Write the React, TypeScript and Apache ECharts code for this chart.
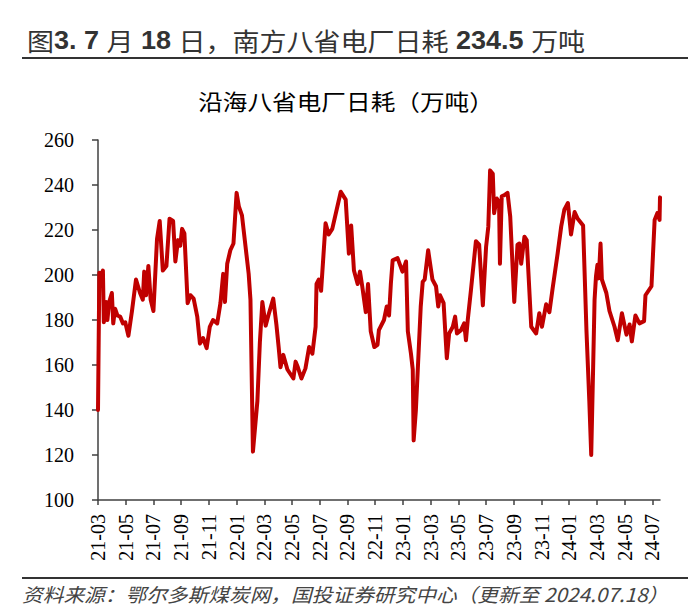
import React, { useEffect, useRef } from "react";
import * as echarts from "echarts";

const xTickLabels = [
  "21-03", "21-05", "21-07", "21-09", "21-11", "22-01", "22-03", "22-05", "22-07", "22-09", "22-11",
  "23-01", "23-03", "23-05", "23-07", "23-09", "23-11", "24-01", "24-03", "24-05", "24-07",
];

const yTicks = [100, 120, 140, 160, 180, 200, 220, 240, 260];

const dates = [
  "2021-03-01", "2021-03-04", "2021-03-08", "2021-03-12", "2021-03-14", "2021-03-19", "2021-03-22", "2021-03-26",
  "2021-04-01", "2021-04-04", "2021-04-08", "2021-04-13", "2021-04-19", "2021-04-25", "2021-04-30",
  "2021-05-07", "2021-05-15", "2021-05-24", "2021-06-02", "2021-06-08", "2021-06-11", "2021-06-15", "2021-06-20", "2021-06-25",
  "2021-07-01", "2021-07-09", "2021-07-15", "2021-07-22", "2021-07-30", "2021-08-06", "2021-08-14", "2021-08-19", "2021-08-25", "2021-08-30",
  "2021-09-03", "2021-09-08", "2021-09-15", "2021-09-21", "2021-09-28", "2021-10-06", "2021-10-12", "2021-10-19", "2021-10-27",
  "2021-11-03", "2021-11-10", "2021-11-19", "2021-11-26", "2021-12-02", "2021-12-06", "2021-12-11", "2021-12-18", "2021-12-25",
  "2022-01-01", "2022-01-06", "2022-01-13", "2022-01-28", "2022-02-01", "2022-02-06", "2022-02-15", "2022-02-20", "2022-02-25",
  "2022-03-04", "2022-03-10", "2022-03-21", "2022-03-28", "2022-04-02", "2022-04-06", "2022-04-12", "2022-04-21",
  "2022-05-04", "2022-05-09", "2022-05-14", "2022-05-22", "2022-05-31", "2022-06-08", "2022-06-15", "2022-06-22", "2022-06-24", "2022-06-29",
  "2022-07-04", "2022-07-14", "2022-07-21", "2022-07-29", "2022-08-17", "2022-08-28", "2022-09-04", "2022-09-09", "2022-09-15", "2022-09-23", "2022-09-28",
  "2022-10-03", "2022-10-11", "2022-10-16", "2022-10-22", "2022-10-30", "2022-11-06", "2022-11-09", "2022-11-20", "2022-11-26",
  "2022-12-01", "2022-12-05", "2022-12-09", "2022-12-20", "2022-12-31",
  "2023-01-08", "2023-01-12", "2023-01-19", "2023-01-23", "2023-01-25", "2023-01-30", "2023-02-09", "2023-02-13", "2023-02-17", "2023-02-24",
  "2023-03-05", "2023-03-13", "2023-03-18", "2023-03-22", "2023-03-30", "2023-04-06", "2023-04-11", "2023-04-19", "2023-04-24", "2023-04-28",
  "2023-05-07", "2023-05-14", "2023-05-18", "2023-05-22", "2023-05-29", "2023-06-09", "2023-06-16", "2023-06-24",
  "2023-07-01", "2023-07-06", "2023-07-10", "2023-07-16", "2023-07-19", "2023-07-25", "2023-07-30", "2023-08-01", "2023-08-05", "2023-08-11", "2023-08-18", "2023-08-24",
  "2023-09-02", "2023-09-09", "2023-09-13", "2023-09-17", "2023-09-24", "2023-09-29", "2023-10-09", "2023-10-20", "2023-10-27",
  "2023-11-02", "2023-11-11", "2023-11-18", "2023-11-25", "2023-12-06", "2023-12-14", "2023-12-21", "2023-12-29",
  "2024-01-05", "2024-01-13", "2024-01-20", "2024-02-01", "2024-02-08", "2024-02-14", "2024-02-18", "2024-02-22", "2024-02-25", "2024-02-28",
  "2024-03-02", "2024-03-05", "2024-03-09", "2024-03-12", "2024-03-22", "2024-03-29", "2024-04-09", "2024-04-16", "2024-04-25",
  "2024-05-05", "2024-05-12", "2024-05-17", "2024-05-25", "2024-06-03", "2024-06-13", "2024-06-16", "2024-06-29",
  "2024-07-06", "2024-07-12", "2024-07-17", "2024-07-18",
];

const values = [
  140, 201, 200, 202, 179, 188, 180, 188,
  192, 178.5, 185, 182, 181.5, 178.5, 179,
  173, 184, 198, 192, 189, 201.5, 191, 204, 189,
  184, 216, 224, 202, 204, 225, 224, 206, 215.5, 213,
  220.5, 218.5, 187.5, 191, 189.5, 181.5, 169.5, 172, 167.5,
  177, 180, 178.5, 187.5, 200.5, 188, 205, 211, 214,
  236.5, 230.5, 226.5, 200.5, 189, 121.5, 144, 170, 188,
  177.5, 182, 189.5, 178, 168, 159, 164.5, 158,
  154, 161.5, 159, 154, 158.5, 168, 165, 177, 196, 198,
  193, 223, 218, 220.5, 237, 233.5, 209.5, 222, 202, 196, 201.5,
  195, 183.5, 196, 175, 168, 169, 175.5, 180, 186,
  182, 196, 206.5, 207.5, 201.5,
  206, 175, 165, 158, 126.5, 140, 186, 197, 198, 211,
  198, 195, 186, 191, 187.5, 163, 174, 177, 181.5, 174,
  175.5, 178.5, 171, 180, 193, 215, 213.5, 186.5,
  212.5, 221.5, 246.5, 245, 227.5, 234, 232.5, 205, 235, 235.5, 236.5, 226,
  188, 213.5, 214, 205, 217, 215.5, 177, 174, 183,
  177, 187, 183.5, 194, 209.5, 221.5, 229, 232,
  218, 228, 225, 222, 175.5, 144, 120, 159, 189, 199.5,
  204.5, 198.5, 214, 198, 192, 184, 177, 171, 183,
  173.5, 178, 170.5, 182, 178.5, 179.5, 191, 195,
  224.5, 227.5, 224.5, 234.5,
];

// month index counted from 2021-03-01
function monthIndex(d: string): number {
  const [y, m, day] = d.split("-").map(Number);
  const dim = new Date(y, m, 0).getDate();
  return (y - 2021) * 12 + (m - 3) + (day - 1) / dim;
}

export default function App() {
  const ref = useRef<HTMLDivElement>(null);
  useEffect(() => {
    document.body.style.margin = "0";
    if (!ref.current) return;
    const chart = echarts.init(ref.current, undefined, { renderer: "svg" });
    const seriesData = dates.map((d, i) => [monthIndex(d), values[i]]);
    const tickVals = xTickLabels.map((_, i) => i * 2);
    const xMax = monthIndex(dates[dates.length - 1]);
    chart.setOption({
      animation: false,
      backgroundColor: "#ffffff",
      grid: { left: 98, right: 40, top: 140, bottom: 113 },
      xAxis: {
        type: "value",
        min: 0,
        max: xMax,
        splitLine: { show: false },
        axisLine: { show: true, onZero: false, lineStyle: { color: "#404040", width: 1.5 } },
        axisTick: { show: true, length: 5, customValues: tickVals, lineStyle: { color: "#404040", width: 1.5 } },
        axisLabel: {
          customValues: tickVals,
          rotate: 90,
          margin: 14,
          fontFamily: "Liberation Serif",
          fontSize: 20,
          color: "#000",
          formatter: (v: number) => xTickLabels[Math.round(v / 2)] ?? "",
        },
      },
      yAxis: {
        type: "value",
        min: 100,
        max: 260,
        interval: 20,
        splitLine: { show: false },
        axisLine: { show: true, lineStyle: { color: "#404040", width: 1.5 } },
        axisTick: { show: true, length: 6, lineStyle: { color: "#404040", width: 1.5 } },
        axisLabel: {
          margin: 24,
          fontFamily: "Liberation Serif",
          fontSize: 20,
          color: "#000",
          formatter: (v: number) => (yTicks.includes(v) ? String(v) : ""),
        },
      },
      series: [
        {
          type: "line",
          data: seriesData,
          showSymbol: false,
          symbol: "none",
          lineStyle: { color: "#C00000", width: 4, join: "round", cap: "round" },
        },
      ],
      graphic: [
        {
          type: "text",
          x: 27,
          y: 40,
          scaleX: 1.08,
          style: {
            text: "{n|图}{b|3. 7 }{n|月}{b| 18 }{n|日，南方八省电厂日耗}{b| 234.5 }{n|万吨}",
            verticalAlign: "middle",
            rich: {
              n: { fontFamily: "Noto Sans CJK SC", fontSize: 25, fontWeight: "normal", fill: "#333" },
              b: { fontFamily: "Liberation Sans", fontSize: 25, fontWeight: "bold", fill: "#333" },
            },
          },
        },
        {
          type: "line",
          shape: { x1: 22, y1: 58, x2: 688, y2: 58 },
          style: { stroke: "#333", lineWidth: 2 },
        },
        {
          type: "text",
          x: 346,
          y: 101,
          scaleX: 1.12,
          style: {
            text: "沿海八省电厂日耗（万吨）",
            fontFamily: "Noto Sans CJK SC",
            fontSize: 22,
            fontWeight: "normal",
            fill: "#000",
            textAlign: "center",
            verticalAlign: "middle",
          },
        },
        {
          type: "line",
          shape: { x1: 22, y1: 578, x2: 688, y2: 578 },
          style: { stroke: "#333", lineWidth: 2 },
        },
        {
          type: "text",
          x: 22,
          y: 594,
          scaleX: 1.09,
          style: {
            text: "资料来源：鄂尔多斯煤炭网，国投证券研究中心（更新至 2024.07.18）",
            fontFamily: "Noto Sans CJK SC",
            fontStyle: "italic",
            fontSize: 19,
            fill: "#444",
            verticalAlign: "middle",
          },
        },
      ],
    });
    return () => chart.dispose();
  }, []);
  return <div ref={ref} style={{ width: 700, height: 613 }} />;
}
